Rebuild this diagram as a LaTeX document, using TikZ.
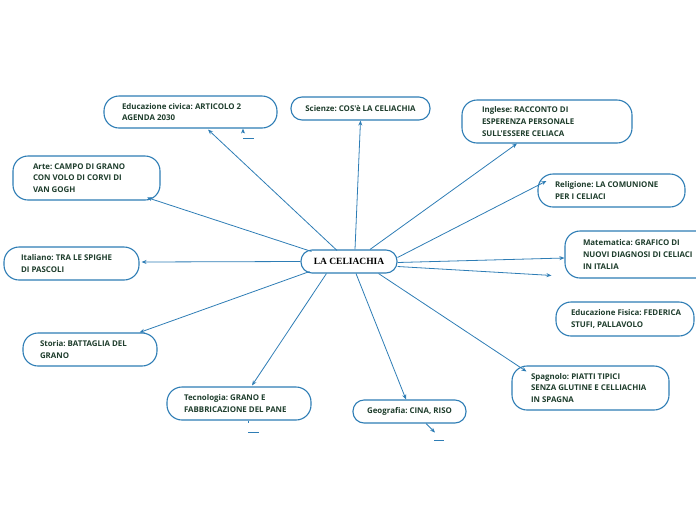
\documentclass[tikz,border=0pt]{standalone}
\usepackage{fontspec}
\usepackage{tikz}
\usetikzlibrary{arrows.meta, calc}

\newfontfamily\mapfont{Open Sans}
\newfontfamily\titlefont{Liberation Serif}
\definecolor{mapblue}{HTML}{2E7DB5}
\definecolor{maptext}{HTML}{1E3D2C}
\frenchspacing

\tikzset{
  topic/.style={draw=mapblue, line width=1.1pt, rounded corners=15pt, fill=white,
    text=maptext, font=\mapfont\bfseries\fontsize{7.9}{11.6}\selectfont, align=flush left},
  slim/.style={rounded corners=11pt, align=center, minimum height=23pt},
  link/.style={draw=mapblue, line width=0.8pt, -{Stealth[length=5pt,width=4pt]}},
  stub/.style={draw=mapblue, line width=1.8pt}
}

\begin{document}
\begin{tikzpicture}[x=1pt, y=-1pt]
  \useasboundingbox (0,0) rectangle (696,520);
  % Central topic
  \node[topic, slim, minimum width=96pt,
        font=\titlefont\bfseries\fontsize{9.5}{11}\selectfont, text=black] (celiachia) at (349,261.5) {LA CELIACHIA};
  % Subjects
  \node[topic, text width=137pt, inner xsep=18pt, minimum height=32pt] (civica) at (190.5,112)
    {Educazione civica: ARTICOLO 2\\AGENDA 2030};
  \node[topic, slim, minimum width=139pt] (scienze) at (360.5,108.5)
    {Scienze: COS'è LA CELIACHIA};
  \node[topic, text width=130pt, inner xsep=20pt, minimum height=43pt] (inglese) at (547,121.5)
    {Inglese: RACCONTO DI\\ESPERENZA PERSONALE\\SULL'ESSERE CELIACA};
  \node[topic, text width=107pt, inner xsep=20pt, minimum height=44pt] (arte) at (86.5,178)
    {Arte: CAMPO DI GRANO\\CON VOLO DI CORVI DI\\VAN GOGH};
  \node[topic, text width=113pt, inner xsep=17pt, minimum height=33pt] (religione) at (611.5,190.5)
    {Religione: LA COMUNIONE\\PER I CELIACI};
  \node[topic, text width=101pt, inner xsep=17pt, minimum height=33pt] (italiano) at (71.5,263.5)
    {Italiano: TRA LE SPIGHE\\DI PASCOLI};
  \node[topic, text width=124pt, inner xsep=18pt, minimum height=47pt] (matematica) at (645,254.5)
    {Matematica: GRAFICO DI\\\mbox{NUOVI DIAGNOSI DI CELIACI}\\IN ITALIA};
  \node[topic, text width=108pt, inner xsep=15pt, minimum height=34pt] (fisica) at (625,319)
    {\mbox{Educazione Fisica: FEDERICA}\\STUFI, PALLAVOLO};
  \node[topic, text width=119pt, inner xsep=19pt, minimum height=44pt] (spagnolo) at (590.5,388)
    {Spagnolo: PIATTI TIPICI\\\mbox{SENZA GLUTINE E CELLIACHIA}\\IN SPAGNA};
  \node[topic, text width=100pt, inner xsep=17pt, minimum height=33pt] (storia) at (90,349.5)
    {Storia: BATTAGLIA DEL\\GRANO};
  \node[topic, text width=110pt, inner xsep=17pt, minimum height=33pt] (tecnologia) at (239,403.5)
    {Tecnologia: GRANO E\\\mbox{FABBRICAZIONE DEL PANE}};
  \node[topic, slim, minimum width=113pt] (geografia) at (409.5,411.5)
    {Geografia: CINA, RISO};
  % Links
  \draw[link] ($(celiachia.north)+(-12,1)$) -- ($(civica.south)+(17.5,1)$);
  \draw[link] ($(celiachia.north)+(6,0)$) -- (scienze.south);
  \draw[link] ($(celiachia.north)+(21,0)$) -- ($(inglese.south)+(-30,0)$);
  \draw[link] ($(celiachia.north west)+(11,2)$) -- ($(arte.south)+(60.5,-3)$);
  \draw[link] ($(celiachia.east)+(0,-4)$) -- ($(religione.west)+(9,-9.5)$);
  \draw[link] (celiachia.west) -- ($(italiano.east)+(2,-1.5)$);
  \draw[link] ($(celiachia.east)+(0,1)$) -- ($(matematica.west)+(0,3.5)$);
  \draw[link] ($(celiachia.east)+(0,5)$) -- ($(fisica.north west)+(-4,-26)$);
  \draw[link] ($(celiachia.south east)+(-19,0)$) -- ($(spagnolo.north west)+(15,6)$);
  \draw[link] ($(celiachia.south west)+(9,-2)$) -- ($(storia.north east)+(-18,0)$);
  \draw[link] ($(celiachia.south west)+(26,0)$) -- ($(tecnologia.north)+(13,-1)$);
  \draw[link] ($(celiachia.south)+(7,0)$) -- ($(geografia.north)+(-3.5,0)$);
  % Collapsed markers
  \draw[link] ($(civica.south)+(52.5,4)$) -- ($(civica.south)+(52.5,0)$);
  \draw[stub] ($(civica.south)+(52.5,10)$) -- +(11,0);
  \draw[stub, line width=1pt] ($(tecnologia.south)+(9,0)$) -- +(0,2);
  \draw[stub] ($(tecnologia.south)+(9,12)$) -- +(11,0);
  \draw[link] ($(geografia.south)+(16.5,0)$) -- ($(geografia.south)+(25.5,9)$);
  \draw[stub] ($(geografia.south)+(24.5,17)$) -- +(10,0);
\end{tikzpicture}
\end{document}
